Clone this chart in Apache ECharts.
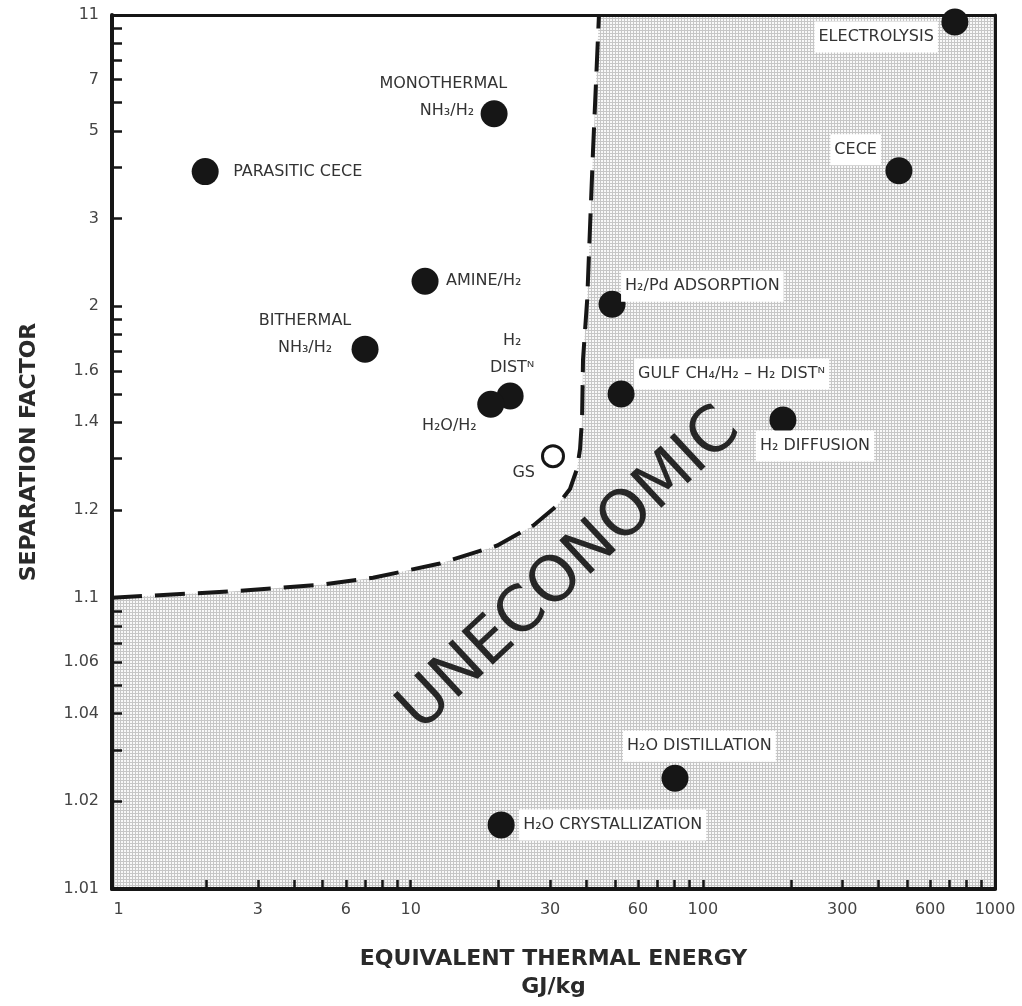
<!DOCTYPE html>
<html><head><meta charset="utf-8">
<script src="https://cdn.jsdelivr.net/npm/echarts@6/dist/echarts.min.js"></script>
<style>html,body{margin:0;padding:0;background:#fff}#c{width:1022px;height:1006px}</style>
</head><body><div id="c"></div>
<script>
// ---------- data ----------
const processNames = ['ELECTROLYSIS','CECE','MONOTHERMAL\nNH₃/H₂','PARASITIC CECE','AMINE/H₂','H₂/Pd ADSORPTION','BITHERMAL\nNH₃/H₂','H₂\nDISTᴺ','H₂O/H₂','GULF CH₄/H₂ – H₂ DISTᴺ','H₂ DIFFUSION','H₂O DISTILLATION','H₂O CRYSTALLIZATION'];
const energyGJkg = [729, 469, 19.3, 1.98, 11.2, 48.9, 6.98, 21.9, 18.8, 52.5, 188, 80.3, 20.4];
const separationFactor = [10.46, 3.92, 5.58, 3.90, 2.22, 2.016, 1.713, 1.492, 1.461, 1.50, 1.407, 1.024, 1.0166];
const gsName = ['GS'];
const gsEnergy = [30.7];
const gsSeparation = [1.306];
const boundaryEnergy = [0.95, 2.41, 5.01, 7.43, 12.6, 19.8, 26.3, 31.7, 35.1, 37.1, 38.0, 38.6, 38.9, 40.2, 42.1, 44.1];
const boundarySeparation = [1.10, 1.105, 1.111, 1.117, 1.131, 1.151, 1.177, 1.207, 1.236, 1.277, 1.324, 1.41, 1.658, 2.056, 4.45, 11];
const regionText = ['UNECONOMIC'];
const regionEnergy = [35.1];
const regionSeparation = [1.124];
const xLabelValues = [1, 3, 6, 10, 30, 60, 100, 300, 600, 1000];
const xTickValues = [2,3,4,5,6,7,8,9,10,20,30,40,50,60,70,80,90,100,200,300,400,500,600,700,800,900];
const yLabelText = ['1.01','1.02','1.04','1.06','1.1','1.2','1.4','1.6','2','3','5','7','11'];
const yTickValues = [1.02,1.03,1.04,1.05,1.06,1.07,1.08,1.09,1.1,1.2,1.3,1.4,1.5,1.6,1.7,1.8,1.9,2,3,4,5,6,7,8,9,10,11];
const xAxisMin = 0.95, xAxisMax = 1000;
const yAxisMin = 1.01, yAxisMax = 11;

// ---------- label placement (px relative to symbol box) ----------
const labelPlacement = [
  {p:[-3.5, 28.5], a:'right', bg:true},
  {p:[-4.5, -7.5], a:'right', bg:true},
  {p:[30.5, -3], a:'right', bg:false, shift2:33},
  {p:[37.5, 13.5], a:'left', bg:false},
  {p:[30.5, 13.5], a:'left', bg:false},
  {p:[22.5, -4.5], a:'left', bg:true},
  {p:[-46.5, -1.5], a:'center', bg:false},
  {p:[15.5, -28.5], a:'center', bg:false},
  {p:[3.5, 35.5], a:'right', bg:false},
  {p:[26.5, -6.5], a:'left', bg:true},
  {p:[-13.5, 39.5], a:'left', bg:true},
  {p:[-38.5, -18.5], a:'left', bg:true},
  {p:[31.5, 13.5], a:'left', bg:true}
];

const L = Math.log10;
const ly = s => Math.log10(s - 1);
const FONT = 'DejaVu Sans';
const INK = '#161616';

// stipple pattern for the uneconomic region
const pc = document.createElement('canvas');
pc.width = 3; pc.height = 3;
const g = pc.getContext('2d');
g.fillStyle = '#f8f8f8'; g.fillRect(0,0,3,3);
g.fillStyle = '#c6c6c6'; g.fillRect(0,0,3,1); g.fillRect(0,0,1,3);

const xLabLogs = xLabelValues.map(L);
const yLabLogs = yLabelText.map(t => ly(parseFloat(t)));
function fmtX(v){ const i = xLabLogs.findIndex(l => Math.abs(l - v) < 1e-6); return i < 0 ? '' : String(xLabelValues[i]); }
function fmtY(v){ const i = yLabLogs.findIndex(l => Math.abs(l - v) < 1e-6); return i < 0 ? '' : yLabelText[i]; }

const pointData = processNames.map((n, i) => {
  const lp = labelPlacement[i];
  const label = { position: lp.p, align: lp.a, verticalAlign: 'middle',
                  backgroundColor: lp.bg ? '#ffffff' : 'transparent' };
  if (lp.shift2) {
    const lines = n.split('\n');
    label.formatter = '{t|' + lines[0] + '}\n{r|' + lines[1] + '}';
    label.rich = { t: {lineHeight: 27}, r: {lineHeight: 27, padding: [0, lp.shift2, 0, 0]} };
  }
  return { name: n, value: [L(energyGJkg[i]), ly(separationFactor[i])], label };
});
const boundaryData = boundaryEnergy.map((e, i) => [L(e), ly(boundarySeparation[i])]);

const frameLine = {show: true, onZero: false, lineStyle: {color: INK, width: 3}};
const option = {
  animation: false,
  backgroundColor: '#ffffff',
  grid: { left: 112, top: 15, width: 883, height: 876, show: true,
          backgroundColor: {image: pc, repeat: 'repeat'}, borderWidth: 0 },
  xAxis: [{
    type: 'value', min: L(xAxisMin), max: L(xAxisMax), position: 'bottom', z: 10,
    axisLine: {show: true, onZero: false, lineStyle: {color: INK, width: 4}},
    axisTick: {show: true, inside: true, length: 9, lineStyle: {color: INK, width: 2.5}, customValues: xTickValues.map(L)},
    axisLabel: {show: true, customValues: xLabLogs, formatter: fmtX, color: '#444', fontSize: 16, fontFamily: FONT, margin: 13},
    splitLine: {show: false},
    name: 'EQUIVALENT THERMAL ENERGY\nGJ/kg', nameLocation: 'middle', nameGap: 56,
    nameTextStyle: {fontFamily: FONT, fontWeight: 'bold', fontSize: 22, color: '#2a2a2a', lineHeight: 28}
  }, {
    type: 'value', min: L(xAxisMin), max: L(xAxisMax), position: 'top', z: 10,
    axisLine: frameLine, axisTick: {show: false}, axisLabel: {show: false}, splitLine: {show: false}
  }],
  yAxis: [{
    type: 'value', min: ly(yAxisMin), max: ly(yAxisMax), position: 'left', z: 10,
    axisLine: {show: true, onZero: false, lineStyle: {color: INK, width: 4}},
    axisTick: {show: true, inside: true, length: 10, lineStyle: {color: INK, width: 2.5}, customValues: yTickValues.map(ly)},
    axisLabel: {show: true, customValues: yLabLogs, formatter: fmtY, color: '#444', fontSize: 16, fontFamily: FONT, margin: 13},
    splitLine: {show: false},
    name: 'SEPARATION FACTOR', nameLocation: 'middle', nameGap: 72,
    nameTextStyle: {fontFamily: FONT, fontWeight: 'bold', fontSize: 22, color: '#2a2a2a'}
  }, {
    type: 'value', min: ly(yAxisMin), max: ly(yAxisMax), position: 'right', z: 10,
    axisLine: frameLine, axisTick: {show: false}, axisLabel: {show: false}, splitLine: {show: false}
  }],
  series: [
    {
      name: 'economic region', type: 'line', xAxisIndex: 0, yAxisIndex: 0,
      data: boundaryData, symbol: 'none', smooth: false,
      lineStyle: {width: 0, opacity: 0},
      areaStyle: {color: '#ffffff', origin: 'end', opacity: 1},
      z: 1, silent: true
    },
    {
      name: 'boundary', type: 'line', xAxisIndex: 0, yAxisIndex: 0,
      data: boundaryData, symbol: 'none', smooth: false,
      lineStyle: {color: INK, width: 4, type: [30, 13]},
      z: 2, silent: true
    },
    {
      name: 'region', type: 'scatter', xAxisIndex: 0, yAxisIndex: 0,
      data: regionText.map((t, i) => ({name: t, value: [L(regionEnergy[i]), ly(regionSeparation[i])]})),
      symbolSize: 0, itemStyle: {color: 'rgba(0,0,0,0)', opacity: 1},
      label: {show: true, formatter: '{b}', position: 'inside', rotate: 43, align: 'center', verticalAlign: 'middle',
              fontFamily: FONT, fontSize: 63, color: '#262626'},
      z: 3, silent: true
    },
    {
      name: 'processes', type: 'scatter', xAxisIndex: 0, yAxisIndex: 0,
      data: pointData, symbol: 'circle', symbolSize: 27,
      itemStyle: {color: INK, opacity: 1},
      label: {show: true, formatter: '{b}', fontFamily: FONT, fontSize: 16, color: '#333', lineHeight: 27,
              padding: [2, 4]},
      z: 4
    },
    {
      name: 'GS', type: 'scatter', xAxisIndex: 0, yAxisIndex: 0,
      data: gsName.map((n, i) => ({name: n, value: [L(gsEnergy[i]), ly(gsSeparation[i])]})),
      symbol: 'circle', symbolSize: 21,
      itemStyle: {color: '#ffffff', borderColor: INK, borderWidth: 3, opacity: 1},
      label: {show: true, formatter: '{b}', position: [-2, 29], align: 'right', verticalAlign: 'middle',
              fontFamily: FONT, fontSize: 16, color: '#333', padding: [2, 4]},
      z: 4
    }
  ]
};
const chart = echarts.init(document.getElementById('c'));
chart.setOption(option);
</script>
</body></html>
